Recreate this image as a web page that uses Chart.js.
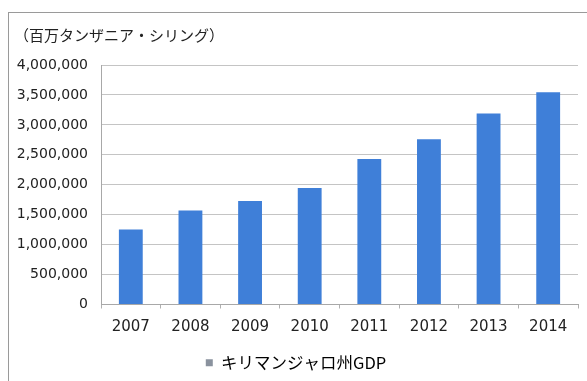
<!DOCTYPE html>
<html lang="ja">
<head>
<meta charset="utf-8">
<title>キリマンジャロ州GDP</title>
<script src="https://cdn.jsdelivr.net/npm/chart.js@4"></script>
<style>
  html, body { margin: 0; padding: 0; background: #fff; }
  .frame {
    position: absolute;
    left: 8px;
    top: 12px;
    width: 579px;
    height: 369px;
    border-left: 1px solid #9a9a9a;
    border-top: 1px solid #9a9a9a;
  }
  canvas { display: block; }
</style>
</head>
<body>
<div class="frame">
  <canvas id="gdpChart" width="578" height="368"></canvas>
</div>
<script>
// 年ごとのキリマンジャロ州GDP（百万タンザニア・シリング）
const years = ["2007", "2008", "2009", "2010", "2011", "2012", "2013", "2014"];
const gdpValues = [1254000, 1572000, 1727000, 1945000, 2430000, 2760000, 3190000, 3545000];
const yTicks = [0, 500000, 1000000, 1500000, 2000000, 2500000, 3000000, 3500000, 4000000];

const seriesLabel = "キリマンジャロ州GDP";
const unitLabel = "（百万タンザニア・シリング）";

const barColor = "#3f7fd8";
const textColor = "#222";

function renderChart() {
  const ctx = document.getElementById("gdpChart");
  new Chart(ctx, {
    type: "bar",
    data: {
      labels: years,
      datasets: [{
        label: seriesLabel,
        data: gdpValues,
        backgroundColor: barColor,
        borderWidth: 0,
        barPercentage: 0.4,
        categoryPercentage: 1
      }]
    },
    options: {
      responsive: false,
      animation: false,
      layout: { padding: { left: 5, right: 9, top: 0, bottom: 0 } },
      plugins: {
        tooltip: { enabled: false },
        title: {
          display: true,
          text: unitLabel,
          align: "start",
          color: textColor,
          font: { family: "'Noto Sans CJK JP', sans-serif", size: 15, weight: "normal" },
          padding: { top: 13, bottom: 21 }
        },
        legend: {
          position: "bottom",
          labels: {
            color: textColor,
            boxWidth: 7,
            boxHeight: 7,
            padding: 8,
            font: { family: "'Noto Sans CJK JP', sans-serif", size: 16.5 },
            generateLabels: () => [{
              text: seriesLabel,
              fillStyle: "#8a929e",
              strokeStyle: "#8a929e",
              lineWidth: 0,
              datasetIndex: 0
            }]
          }
        }
      },
      scales: {
        x: {
          afterFit: (scale) => { scale.height = 42; },
          grid: {
            display: true,
            drawOnChartArea: false,
            drawTicks: true,
            tickLength: 4,
            color: "#b0b0b0"
          },
          border: { color: "#a8a8a8" },
          ticks: {
            color: textColor,
            padding: 10,
            font: { family: "'DejaVu Sans', sans-serif", size: 15 }
          }
        },
        y: {
          min: 0,
          max: 4000000,
          afterFit: (scale) => { scale.width = 87; },
          afterBuildTicks: (scale) => { scale.ticks = yTicks.map((v) => ({ value: v })); },
          grid: { color: "#c4c4c4", drawTicks: false },
          border: { color: "#a8a8a8" },
          ticks: {
            color: textColor,
            padding: 13,
            font: { family: "'DejaVu Sans', sans-serif", size: 14 },
            callback: (value) => value.toLocaleString("en-US")
          }
        }
      }
    }
  });
}

document.addEventListener("DOMContentLoaded", renderChart);
</script>
</body>
</html>
